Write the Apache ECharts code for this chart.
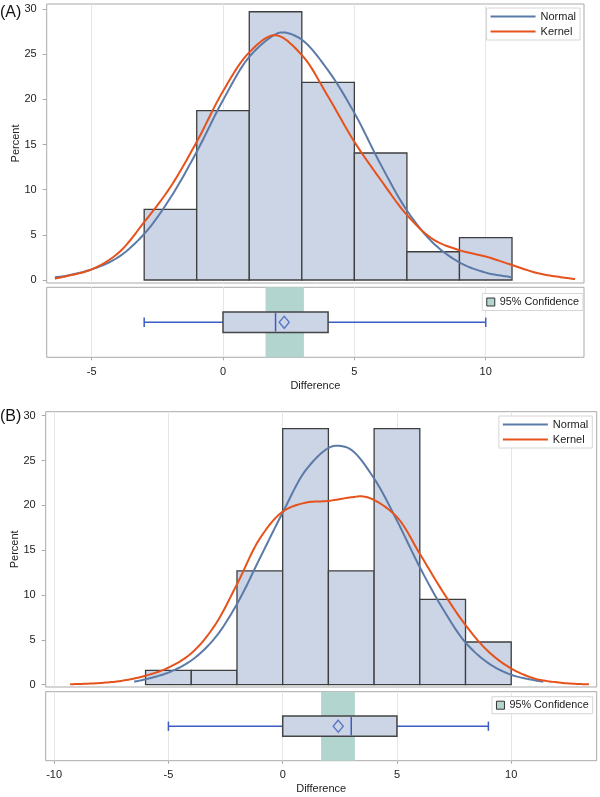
<!DOCTYPE html>
<html>
<head>
<meta charset="utf-8">
<script src="https://cdn.jsdelivr.net/npm/echarts@6/dist/echarts.min.js"></script>
<style>
html,body{margin:0;padding:0;background:#fff;}
#chart{width:600px;height:797px;}
</style>
</head>
<body>
<div id="chart"></div>
<script>
// ---------- Data ----------
const binWidth = 2;
const binStartsA = [-3, -1, 1, 3, 5, 7, 9];
const percentA = [7.81, 18.75, 29.69, 21.88, 14.06, 3.13, 4.69];
const normalAx = [-6.4, -6, -5, -4, -3, -2, -1, 0, 1, 2, 2.32, 3, 4, 5, 6, 7, 8, 9, 10, 11];
const normalAy = [0.3, 0.45, 1.18, 2.5, 5.1, 9.1, 14.2, 19.9, 24.7, 27.2, 27.4, 26.6, 23.2, 18.5, 12.8, 7.7, 4.1, 1.95, 0.82, 0.3];
const kernelAx = [-6.4, -6, -5, -4, -3, -2, -1, 0, 1, 1.98, 3, 4, 5, 6, 7, 8, 9, 10, 11, 12, 13, 13.4];
const kernelAy = [0.15, 0.4, 1.18, 2.95, 6.4, 10.3, 15.3, 20.9, 25.2, 27.1, 24.9, 20.3, 15.3, 11.1, 7.2, 4.5, 3.3, 2.6, 1.66, 0.74, 0.26, 0.1];
const boxA = [-3, 0, 2, 4, 10];      // min, Q1, median, Q3, max
const meanA = 2.33;
const ciA = [1.62, 3.08];

const binStartsB = [-6, -4, -2, 0, 2, 4, 6, 8];
const percentB = [1.59, 1.59, 12.70, 28.57, 12.70, 28.57, 9.52, 4.76];
const normalBx = [-6.5, -6, -5, -4, -3, -2, -1, 0, 1, 2, 2.43, 3, 4, 5, 6, 7, 8, 9, 10, 11, 11.4];
const normalBy = [0.33, 0.6, 1.35, 2.7, 5.1, 9.0, 14.1, 19.2, 23.9, 26.4, 26.65, 26.2, 23.0, 18.3, 13.1, 8.5, 4.7, 2.4, 1.1, 0.5, 0.33];
const kernelBx = [-9.3, -9, -8, -7, -6, -5, -4, -3, -2, -1, 0, 1, 2, 3, 3.5, 4, 5, 6, 7, 8, 9, 10, 11, 12, 13, 13.4];
const kernelBy = [0.05, 0.07, 0.18, 0.45, 1.0, 1.9, 3.5, 6.5, 11.2, 16.3, 19.3, 20.3, 20.5, 20.9, 21.0, 20.6, 18.7, 14.6, 10.4, 6.65, 3.7, 1.8, 0.7, 0.26, 0.07, 0.05];
const boxB = [-5, 0, 3, 5, 9];
const meanB = 2.43;
const ciB = [1.68, 3.16];

const xTicksA = [-5, 0, 5, 10];
const xTicksB = [-10, -5, 0, 5, 10];
const yTicks = [0, 5, 10, 15, 20, 25, 30];

// ---------- Styles ----------
const FONT = 'Liberation Sans, Arial, sans-serif';
const BAR_FILL = '#cbd5e6';
const BAR_EDGE = '#3e3e3e';
const NORMAL_C = '#5b7aa8';
const KERNEL_C = '#e6521c';
const WHISK_C = '#3b5cc0';
const CI_C = '#b3d5cf';
const FRAME_C = '#a9a9a9';
const GRID_C = '#e6e6e6';

function histSeries(starts, pcts, xi) {
  return {
    type: 'custom', xAxisIndex: xi, yAxisIndex: xi, z: 2, silent: true,
    data: starts.map((s, i) => [s, s + binWidth, pcts[i]]),
    encode: { x: [0, 1], y: 2 },
    renderItem: function (params, api) {
      const p0 = api.coord([api.value(0), 0]);
      const p1 = api.coord([api.value(1), api.value(2)]);
      return {
        type: 'rect',
        shape: { x: p0[0], y: p1[1], width: p1[0] - p0[0], height: p0[1] - p1[1] },
        style: { fill: BAR_FILL, stroke: BAR_EDGE, lineWidth: 1.3 }
      };
    }
  };
}

// centripetal Catmull-Rom through the screen positions of the read points
function splinePath(P) {
  const n = P.length, out = [];
  const ext = (a, b) => [2 * a[0] - b[0], 2 * a[1] - b[1]];
  const d = (a, b) => Math.pow(Math.hypot(b[0] - a[0], b[1] - a[1]), 0.5) || 1e-6;
  for (let i = 0; i < n - 1; i++) {
    const p0 = i > 0 ? P[i - 1] : ext(P[0], P[1]);
    const p1 = P[i], p2 = P[i + 1];
    const p3 = i + 2 < n ? P[i + 2] : ext(P[n - 1], P[n - 2]);
    const t0 = 0, t1 = t0 + d(p0, p1), t2 = t1 + d(p1, p2), t3 = t2 + d(p2, p3);
    const steps = 12;
    for (let s = 0; s < steps; s++) {
      const t = t1 + (t2 - t1) * s / steps;
      const L = (a, b, ta, tb) => [((tb - t) * a[0] + (t - ta) * b[0]) / (tb - ta), ((tb - t) * a[1] + (t - ta) * b[1]) / (tb - ta)];
      const A1 = L(p0, p1, t0, t1), A2 = L(p1, p2, t1, t2), A3 = L(p2, p3, t2, t3);
      const B1 = L(A1, A2, t0, t2), B2 = L(A2, A3, t1, t3);
      out.push(L(B1, B2, t1, t2));
    }
  }
  out.push(P[n - 1]);
  return out;
}

function curveSeries(name, xs, ys, color, xi) {
  return {
    name: name, type: 'custom', xAxisIndex: xi, yAxisIndex: xi, z: 4, silent: true,
    data: xs.map((x, i) => [x, ys[i]]), encode: { x: 0, y: 1 },
    itemStyle: { color: color },
    renderItem: function (params, api) {
      if (params.dataIndex !== 0) return null;
      const pts = xs.map((x, i) => api.coord([x, ys[i]]));
      return {
        type: 'polyline',
        shape: { points: splinePath(pts) },
        style: { stroke: color, lineWidth: 2, fill: null, lineJoin: 'round' }
      };
    }
  };
}

function ciSeries(ci, xi) {
  return {
    name: '95% Confidence', type: 'custom', xAxisIndex: xi, yAxisIndex: xi, z: 1, silent: true,
    data: [[ci[0], ci[1]]],
    encode: { x: [0, 1] },
    itemStyle: { color: CI_C },
    renderItem: function (params, api) {
      const a = api.coord([api.value(0), 1]);
      const b = api.coord([api.value(1), 0]);
      return {
        type: 'rect',
        shape: { x: a[0], y: a[1], width: b[0] - a[0], height: b[1] - a[1] },
        style: { fill: CI_C }
      };
    }
  };
}

function boxSeries(stats, xi) {
  return {
    type: 'custom', xAxisIndex: xi, yAxisIndex: xi, z: 3, silent: true,
    data: [stats],
    encode: { x: [0, 1, 2, 3, 4] },
    renderItem: function (params, api) {
      const mn = api.value(0), q1 = api.value(1), md = api.value(2), q3 = api.value(3), mx = api.value(4);
      const c = (x, y) => api.coord([x, y]);
      const boxH = 0.147, capH = 0.067;
      const wl = { stroke: WHISK_C, lineWidth: 1.5 };
      const pMinL = c(mn, 0.5), pQ1 = c(q1, 0.5), pQ3 = c(q3, 0.5), pMaxR = c(mx, 0.5);
      const bTop = c(q1, 0.5 + boxH), bBot = c(q3, 0.5 - boxH);
      const capT = c(mn, 0.5 + capH), capB = c(mn, 0.5 - capH);
      const capT2 = c(mx, 0.5 + capH), capB2 = c(mx, 0.5 - capH);
      const mT = c(md, 0.5 + boxH), mB = c(md, 0.5 - boxH);
      return {
        type: 'group',
        children: [
          { type: 'line', shape: { x1: pMinL[0], y1: pMinL[1], x2: pQ1[0], y2: pQ1[1] }, style: wl },
          { type: 'line', shape: { x1: pQ3[0], y1: pQ3[1], x2: pMaxR[0], y2: pMaxR[1] }, style: wl },
          { type: 'line', shape: { x1: capT[0], y1: capT[1], x2: capB[0], y2: capB[1] }, style: wl },
          { type: 'line', shape: { x1: capT2[0], y1: capT2[1], x2: capB2[0], y2: capB2[1] }, style: wl },
          { type: 'rect', shape: { x: bTop[0], y: bTop[1], width: bBot[0] - bTop[0], height: bBot[1] - bTop[1] },
            style: { fill: BAR_FILL, stroke: '#444', lineWidth: 1.5 } },
          { type: 'line', shape: { x1: mT[0], y1: mT[1] + 1, x2: mB[0], y2: mB[1] - 1 }, style: wl }
        ]
      };
    }
  };
}

function meanSeries(m, xi) {
  return {
    type: 'scatter', xAxisIndex: xi, yAxisIndex: xi, z: 5, silent: true,
    data: [[m, 0.5]], symbol: 'diamond', symbolSize: [10, 12],
    itemStyle: { color: 'rgba(0,0,0,0)', borderColor: WHISK_C, borderWidth: 1.4 }
  };
}

function xAxisHist(gi, min, max, ticks) {
  return {
    gridIndex: gi, type: 'value', min: min, max: max,
    axisLine: { show: false, onZero: false },
    axisTick: { show: false, customValues: ticks },
    axisLabel: { show: false, customValues: ticks },
    splitLine: { show: true, lineStyle: { color: GRID_C, width: 1 } }
  };
}
function xAxisBox(gi, min, max, ticks, margin) {
  return {
    gridIndex: gi, type: 'value', min: min, max: max,
    name: 'Difference', nameLocation: 'middle', nameGap: 23, nameMoveOverlap: false,
    nameTextStyle: { fontFamily: FONT, fontSize: 11, color: '#222' },
    axisLine: { show: false, onZero: false },
    axisTick: { show: true, length: 3, customValues: ticks, lineStyle: { color: FRAME_C } },
    axisLabel: { show: true, customValues: ticks, margin: margin, fontFamily: FONT, fontSize: 11, color: '#222' },
    splitLine: { show: true, lineStyle: { color: GRID_C, width: 1 } }
  };
}
function yAxisHist(gi, min, max) {
  return {
    gridIndex: gi, type: 'value', min: min, max: max,
    name: 'Percent', nameLocation: 'middle', nameGap: 25, nameMoveOverlap: false,
    nameTextStyle: { fontFamily: FONT, fontSize: 11, color: '#222' },
    axisLine: { show: false, onZero: false },
    axisTick: { show: true, length: 4, customValues: yTicks, lineStyle: { color: FRAME_C } },
    axisLabel: { show: true, customValues: yTicks, margin: 10, fontFamily: FONT, fontSize: 11, color: '#222' },
    splitLine: { show: false }
  };
}
function yAxisBox(gi) {
  return {
    gridIndex: gi, type: 'value', min: 0, max: 1,
    axisLine: { show: false, onZero: false }, axisTick: { show: false }, axisLabel: { show: false }, splitLine: { show: false }
  };
}

const gridStyle = { show: true, borderColor: FRAME_C, borderWidth: 1, backgroundColor: '#fff', containLabel: false, outerBoundsMode: 'none' };
const lineLegend = (right, top) => ({
  data: [
    { name: 'Normal', icon: 'rect', itemStyle: { color: NORMAL_C } },
    { name: 'Kernel', icon: 'rect', itemStyle: { color: KERNEL_C } }
  ],
  orient: 'vertical', right: right, top: top,
  itemWidth: 45, itemHeight: 2, itemGap: 4, padding: [3, 4],
  borderColor: '#d6d6d6', borderWidth: 1, backgroundColor: '#fff',
  textStyle: { fontFamily: FONT, fontSize: 11, color: '#222' }, selectedMode: false
});
const ciLegend = (right, top) => ({
  data: [{ name: '95% Confidence', icon: 'rect', itemStyle: { color: CI_C, borderColor: '#333', borderWidth: 1 } }],
  right: right, top: top, itemWidth: 8, itemHeight: 8, padding: [3, 4],
  borderColor: '#d6d6d6', borderWidth: 1, backgroundColor: '#fff',
  textStyle: { fontFamily: FONT, fontSize: 10.8, color: '#222' }, selectedMode: false
});

const option = {
  animation: false,
  textStyle: { fontFamily: FONT },
  title: [
    { text: '(A)', left: 0, top: 5, padding: 0, textStyle: { fontFamily: FONT, fontSize: 16, fontWeight: 'normal', color: '#111' } },
    { text: '(B)', left: 0, top: 409, padding: 0, textStyle: { fontFamily: FONT, fontSize: 16, fontWeight: 'normal', color: '#111' } }
  ],
  grid: [
    Object.assign({ left: 46.7, right: 16, top: 4, height: 279 }, gridStyle),
    Object.assign({ left: 46.7, right: 16, top: 287.3, height: 70 }, gridStyle),
    Object.assign({ left: 45.7, right: 3.3, top: 411.7, height: 275.3 }, gridStyle),
    Object.assign({ left: 45.7, right: 3.3, top: 691.7, height: 69 }, gridStyle)
  ],
  xAxis: [
    xAxisHist(0, -6.71, 13.74, xTicksA),
    xAxisBox(1, -6.71, 13.74, xTicksA, 9),
    xAxisHist(2, -10.37, 13.74, xTicksB),
    xAxisBox(3, -10.37, 13.74, xTicksB, 9)
  ],
  yAxis: [
    yAxisHist(0, -0.33, 30.55),
    yAxisBox(1),
    yAxisHist(2, -0.26, 30.45),
    yAxisBox(3)
  ],
  legend: [
    lineLegend(20, 8),
    ciLegend(17, 293.5),
    lineLegend(7.7, 416),
    ciLegend(7.3, 696.7)
  ],
  series: [
    histSeries(binStartsA, percentA, 0),
    curveSeries('Normal', normalAx, normalAy, NORMAL_C, 0),
    curveSeries('Kernel', kernelAx, kernelAy, KERNEL_C, 0),
    ciSeries(ciA, 1),
    boxSeries(boxA, 1),
    meanSeries(meanA, 1),
    histSeries(binStartsB, percentB, 2),
    curveSeries('Normal', normalBx, normalBy, NORMAL_C, 2),
    curveSeries('Kernel', kernelBx, kernelBy, KERNEL_C, 2),
    ciSeries(ciB, 3),
    boxSeries(boxB, 3),
    meanSeries(meanB, 3)
  ]
};

const chart = echarts.init(document.getElementById('chart'), null, { renderer: 'canvas' });
chart.setOption(option);
</script>
</body>
</html>
